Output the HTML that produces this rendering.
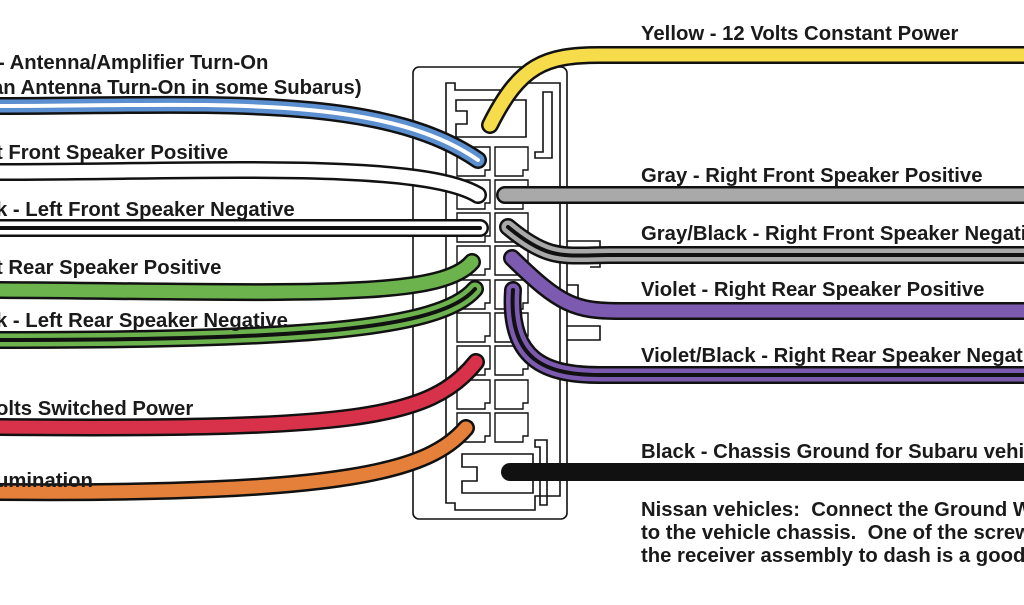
<!DOCTYPE html>
<html><head><style>
body{margin:0;width:1024px;height:600px;background:#fff;overflow:hidden;font-family:"Liberation Sans",sans-serif}
svg text{font-family:"Liberation Sans",sans-serif;font-weight:bold;font-size:20.3px;fill:#1a1a1a}
</style></head><body>
<svg width="1024" height="600" viewBox="0 0 1024 600">
<g fill="none" stroke="#111" stroke-width="1.6">
<rect x="413" y="67" width="154" height="452" rx="6" fill="#fff"/>
<path d="M446 83 H455 V90 H512 V83 H560 V496 H535 V510 H455 V503 H446 Z"/>
<path d="M456 100 H526 V137 H456 V124 H467 V111 H456 Z"/>
<path d="M543 92 H552 V158 H535 V152 H543 Z"/>
<path d="M535 440 H547 V505 H540 V447 H535 Z"/>
<path d="M462 454 H533 V493 H462 V481 H477 V467 H462 Z"/>
<path d="M567 241 H600 V267 H590 M567 285 H578 V300 M567 326 H600 V340 H567"/>
</g>
<g fill="none" stroke="#111" stroke-width="1.4">
<g id="c">
<path d="M457 147 H490 V170 H485 V176 H457 Z"/>
<path d="M495 147 H528 V170 H523 V176 H495 Z"/>
</g>
<use href="#c" y="33"/><use href="#c" y="66"/><use href="#c" y="99"/><use href="#c" y="133"/>
<use href="#c" y="166"/><use href="#c" y="199"/><use href="#c" y="233"/><use href="#c" y="266"/>
</g>
<g fill="none" stroke-linecap="round">
<g stroke="#111" stroke-width="18">
<path d="M-5 106 C200 106 380 92 478 160"/>
<path d="M-5 172 C200 172 420 160 478 195"/>
<path d="M-5 228 H480"/>
<path d="M-5 290 C300 292 440 300 472 262"/>
<path d="M-5 340 C300 340 440 330 475 289"/>
<path d="M-5 427 C350 430 430 420 476 362"/>
<path d="M-5 492 C350 495 430 470 466 428"/>
<path d="M490 125 C520 65 545 55 600 55 H1030"/>
<path d="M505 195 H1030"/>
<path d="M508 227 C550 262 565 255 610 255 H1030"/>
<path d="M512 258 C560 305 575 311 620 311 H1030"/>
<path d="M513 290 C508 360 545 375 600 375 H1030"/>
<path d="M510 472 H1030"/>
</g>
<path d="M-5 106 C200 106 380 92 478 160" stroke="#5b8fd0" stroke-width="13"/>
<path d="M-5 106 C200 106 380 92 478 160" stroke="#fff" stroke-width="4"/>
<path d="M-5 172 C200 172 420 160 478 195" stroke="#fff" stroke-width="13"/>
<path d="M-5 228 H480" stroke="#fff" stroke-width="13"/>
<path d="M-5 228 H480" stroke="#111" stroke-width="4"/>
<path d="M-5 290 C300 292 440 300 472 262" stroke="#6cb34e" stroke-width="13"/>
<path d="M-5 340 C300 340 440 330 475 289" stroke="#6cb34e" stroke-width="13"/>
<path d="M-5 340 C300 340 440 330 475 289" stroke="#111" stroke-width="4"/>
<path d="M-5 427 C350 430 430 420 476 362" stroke="#d8324a" stroke-width="13"/>
<path d="M-5 492 C350 495 430 470 466 428" stroke="#e5803a" stroke-width="13"/>
<path d="M490 125 C520 65 545 55 600 55 H1030" stroke="#f6dc4a" stroke-width="13"/>
<path d="M505 195 H1030" stroke="#a9a9a9" stroke-width="13"/>
<path d="M508 227 C550 262 565 255 610 255 H1030" stroke="#a9a9a9" stroke-width="13"/>
<path d="M508 227 C550 262 565 255 610 255 H1030" stroke="#111" stroke-width="4"/>
<path d="M512 258 C560 305 575 311 620 311 H1030" stroke="#7b5ab0" stroke-width="13"/>
<path d="M513 290 C508 360 545 375 600 375 H1030" stroke="#7b5ab0" stroke-width="13"/>
<path d="M513 290 C508 360 545 375 600 375 H1030" stroke="#111" stroke-width="4"/>
</g>
<text x="-2" y="69">- Antenna/Amplifier Turn-On</text>
<text x="-8" y="94">an Antenna Turn-On in some Subarus)</text>
<text x="-4" y="159">t Front Speaker Positive</text>
<text x="-4" y="216">k - Left Front Speaker Negative</text>
<text x="-4" y="274">t Rear Speaker Positive</text>
<text x="-4" y="327">k - Left Rear Speaker Negative</text>
<text x="-4" y="415">olts Switched Power</text>
<text x="-4" y="487">umination</text>
<text x="641" y="40">Yellow - 12 Volts Constant Power</text>
<text x="641" y="182">Gray - Right Front Speaker Positive</text>
<text x="641" y="240">Gray/Black - Right Front Speaker Negative</text>
<text x="641" y="296">Violet - Right Rear Speaker Positive</text>
<text x="641" y="362">Violet/Black - Right Rear Speaker Negative</text>
<text x="641" y="458">Black - Chassis Ground for Subaru vehicles</text>
<text x="641" y="516">Nissan vehicles:&#160; Connect the Ground Wire</text>
<text x="641" y="539">to the vehicle chassis.&#160; One of the screws</text>
<text x="641" y="562">the receiver assembly to dash is a good</text>
</svg>
</body></html>
